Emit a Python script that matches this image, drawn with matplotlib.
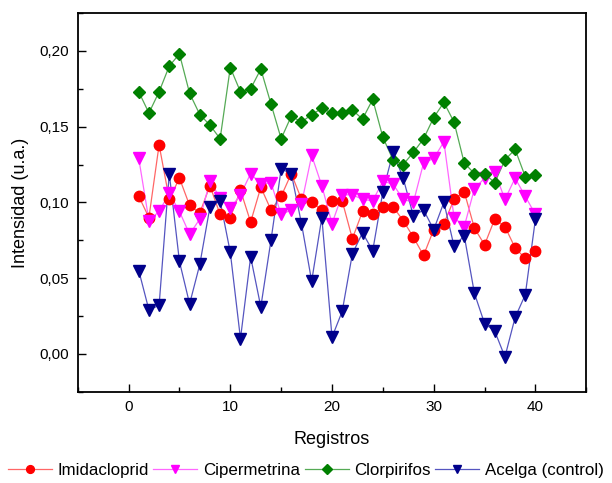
import matplotlib
matplotlib.use("Agg")
import matplotlib.pyplot as plt
from matplotlib.ticker import MultipleLocator, FuncFormatter

plt.rcParams['font.family'] = ['Liberation Sans', 'DejaVu Sans']

registros = list(range(1, 41))

imidacloprid = [0.104, 0.090, 0.138, 0.102, 0.116, 0.098, 0.093, 0.111, 0.092, 0.090,
                0.108, 0.087, 0.110, 0.095, 0.104, 0.119, 0.102, 0.100, 0.095, 0.101,
                0.101, 0.076, 0.094, 0.092, 0.097, 0.097, 0.088, 0.077, 0.065, 0.082,
                0.086, 0.102, 0.107, 0.083, 0.072, 0.089, 0.084, 0.070, 0.063, 0.068]

cipermetrina = [0.129, 0.088, 0.094, 0.106, 0.094, 0.079, 0.089, 0.114, 0.103, 0.096,
                0.105, 0.119, 0.112, 0.113, 0.092, 0.095, 0.099, 0.131, 0.111, 0.086,
                0.105, 0.105, 0.102, 0.101, 0.114, 0.112, 0.102, 0.100, 0.126, 0.129,
                0.140, 0.090, 0.084, 0.109, 0.116, 0.120, 0.102, 0.116, 0.104, 0.092]

clorpirifos = [0.173, 0.159, 0.173, 0.190, 0.198, 0.172, 0.158, 0.151, 0.142, 0.189,
               0.173, 0.175, 0.188, 0.165, 0.142, 0.157, 0.153, 0.158, 0.162, 0.159,
               0.159, 0.161, 0.155, 0.168, 0.143, 0.128, 0.125, 0.133, 0.142, 0.156,
               0.166, 0.153, 0.126, 0.119, 0.119, 0.113, 0.128, 0.135, 0.117, 0.118]

acelga = [0.055, 0.029, 0.032, 0.119, 0.061, 0.033, 0.059, 0.097, 0.101, 0.067,
          0.010, 0.064, 0.031, 0.075, 0.122, 0.119, 0.086, 0.048, 0.090, 0.011,
          0.028, 0.066, 0.080, 0.068, 0.107, 0.133, 0.116, 0.091, 0.095, 0.082,
          0.100, 0.071, 0.078, 0.040, 0.020, 0.015, -0.002, 0.024, 0.039, 0.089]

series = [
    ("Imidacloprid", imidacloprid, '#ff0000', '#ff6666', 'o', 7.5),
    ("Cipermetrina", cipermetrina, '#ff00ff', '#ff66ff', 'v', 8),
    ("Clorpirifos", clorpirifos, '#008000', '#55aa55', 'D', 6.5),
    ("Acelga (control)", acelga, '#00008b', '#5555c0', 'v', 8),
]

fig = plt.figure(figsize=(6.12, 4.83), dpi=100)
ax = fig.add_axes([0.127, 0.189, 0.831, 0.784])

handles = []
for name, vals, mc, lc, mk, ms in series:
    ax.plot(registros, vals, color=lc, lw=0.9, zorder=2)
    ax.plot(registros, vals, linestyle='none', marker=mk, ms=ms,
            mfc=mc, mec=mc, zorder=3)
    h, = ax.plot([], [], color=lc, lw=0.9, marker=mk, ms=ms * 0.75,
                 mfc=mc, mec=mc, label=name)
    handles.append(h)

ax.set_xlim(-5, 45)
ax.set_ylim(-0.025, 0.225)
ax.xaxis.set_major_locator(MultipleLocator(10))
ax.xaxis.set_minor_locator(MultipleLocator(5))
ax.yaxis.set_major_locator(MultipleLocator(0.05))
ax.yaxis.set_minor_locator(MultipleLocator(0.025))
ax.yaxis.set_major_formatter(FuncFormatter(lambda v, p: f"{v:.2f}".replace('.', ',').replace('-0,00', '0,00')))

ax.tick_params(which='both', direction='in', top=False, right=False, labelsize=11)
ax.tick_params(which='major', length=6, width=1, pad=6)
ax.tick_params(which='minor', length=3.5, width=1)
for sp in ax.spines.values():
    sp.set_linewidth(1.3)

ax.set_xlabel("Registros", fontsize=13, labelpad=12)
ax.set_ylabel("Intensidad (u.a.)", fontsize=13, labelpad=8)

fig.legend(handles=handles, loc='center', bbox_to_anchor=(0.5, 1 - 470 / 483),
           ncol=4, frameon=False, fontsize=12.2, handlelength=2.6,
           handletextpad=0.35, columnspacing=0.25, borderpad=0, borderaxespad=0)

fig.savefig("out.png", dpi=100)
